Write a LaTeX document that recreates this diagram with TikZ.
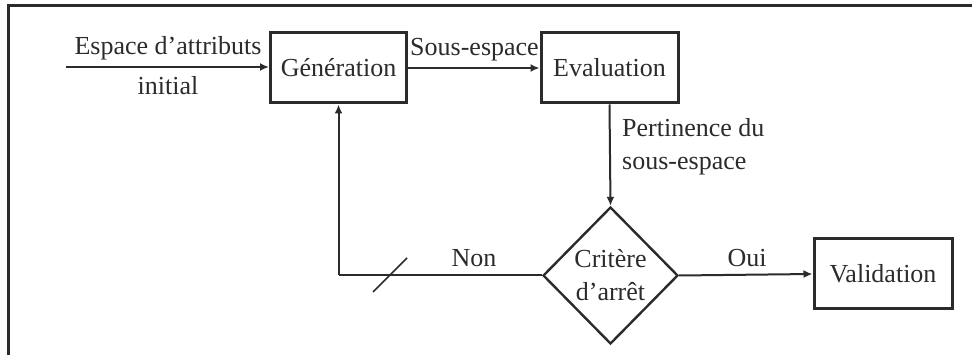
\documentclass[tikz,border=0pt]{standalone}
\usepackage{fontspec}
\setmainfont{Liberation Serif}
\usetikzlibrary{shapes.geometric,arrows.meta}
\definecolor{ink}{HTML}{2B2B2B}
\begin{document}
\begin{tikzpicture}[x=1pt,y=-1pt,
  every node/.style={font=\fontsize{26}{33}\selectfont, text=ink},
  block/.style={draw=ink, line width=3pt, minimum height=70pt, inner sep=0pt},
  decision/.style={draw=ink, line width=2.4pt, diamond, minimum width=135pt, minimum height=137pt, inner sep=0pt, align=center},
  link/.style={draw=ink, line width=2pt, -{Latex[length=9pt,width=8pt]}},
  plain/.style={draw=ink, line width=2pt},
  lbl/.style={inner sep=0pt}
]
\useasboundingbox (0,0) rectangle (972,355);
% frame
\draw[ink, line width=3pt] (972,6) -- (8,6) -- (8,355);

% blocks
\node[block, minimum width=136pt] (gen) at (338.5,68) {Génération};
\node[block, minimum width=137pt] (eval) at (609.5,68) {Evaluation};
\node[decision] (crit) at (610.5,275.5) {Critère\\d’arrêt};
\node[block, minimum width=138pt] (valid) at (883,274) {Validation};

% input
\coordinate (in) at (66,67);
\draw[link] (in) -- (gen.west |- in);
\node[lbl] (lin1) at (168,48) {Espace d’attributs};
\node[lbl] (lin2) at (168,86) {initial};

% generation -> evaluation
\draw[link] (gen.east) -- (eval.west);
\node[lbl] (lsub) at (474.5,50) {Sous-espace};

% evaluation -> decision
\draw[link] (eval.south) -- (crit.north);
\node[lbl, anchor=west, align=left] (lpert) at (622,147) {Pertinence du\\sous-espace};

% decision -> validation
\draw[link] (crit.east) -- (valid.west);
\node[lbl] (loui) at (747,258) {Oui};

% feedback loop
\coordinate (corner) at (gen.south |- crit.west);
\draw[plain] (crit.west) -- (corner);
\draw[link] (corner) -- (gen.south);
\node[lbl] (lnon) at (474,258) {Non};
\coordinate (s1) at (373,292);
\coordinate (s2) at (407,258);
\draw[ink, line width=1.5pt] (s1) -- (s2);
\end{tikzpicture}
\end{document}
